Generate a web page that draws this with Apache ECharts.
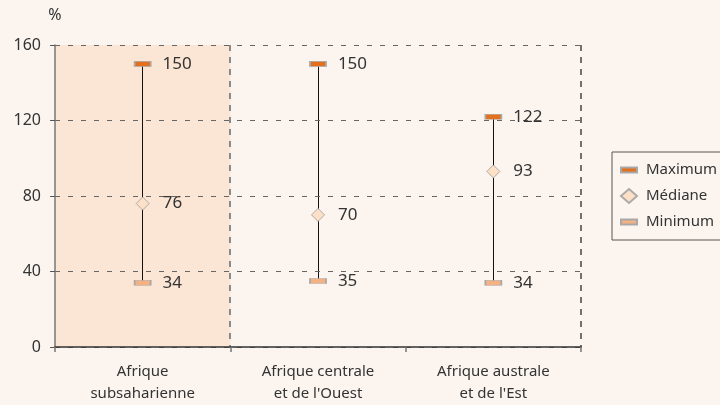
<!DOCTYPE html>
<html><head><meta charset="utf-8">
<script src="https://cdn.jsdelivr.net/npm/echarts@6/dist/echarts.min.js"></script>
<style>html,body{margin:0;padding:0;background:#fcf5ef;}#c{width:720px;height:405px;}</style>
</head><body><div id="c"></div>
<script>
var categories = ['Afrique\nsubsaharienne', "Afrique centrale\net de l'Ouest", "Afrique australe\net de l'Est"];
var maxValues = [150, 150, 122];
var medianValues = [76, 70, 93];
var minValues = [34, 35, 34];
var shaded = [true, false, false];
var yTicks = [0, 40, 80, 120, 160];

var FONT = 'Noto Sans';
var chart = echarts.init(document.getElementById('c'), null, {renderer: 'canvas'});
var rangeData = categories.map(function (c, i) { return [i, minValues[i], maxValues[i]]; });
var rectIcon = 'path://M0,0 M16,14 M0,4.5 L16,4.5 L16,9.5 L0,9.5 Z';
var GRID_DASH = [5, 8];

function crisp(p) {
  var d = Math.round(p * 2);
  return (d + 1) % 2 === 0 ? d / 2 : (d + 1) / 2;
}

var option = {
  backgroundColor: '#fcf5ef',
  animation: false,
  textStyle: {fontFamily: FONT},
  grid: {left: 55, right: 139, top: 45, bottom: 58},
  legend: {
    orient: 'vertical', left: 612, top: 152,
    borderColor: '#555', borderWidth: 1,
    padding: [10, 20, 10, 8],
    itemGap: 10, itemWidth: 16, itemHeight: 14,
    textStyle: {fontFamily: FONT, fontSize: 15, color: '#333', padding: [0, 0, 0, 4]},
    data: [
      {name: 'Maximum', icon: rectIcon},
      {name: 'Médiane', icon: 'diamond'},
      {name: 'Minimum', icon: rectIcon}
    ]
  },
  xAxis: {
    type: 'category', data: categories, boundaryGap: true, z: 4,
    axisLine: {lineStyle: {color: '#333', width: 1.5}},
    axisTick: {show: true, length: 5, lineStyle: {color: '#777', width: 1.5}},
    axisLabel: {margin: 14, fontSize: 15, color: '#333', lineHeight: 22, fontFamily: FONT},
    splitLine: {show: false}
  },
  yAxis: {
    type: 'value', min: 0, max: 160, interval: 40, z: 4,
    name: '%', nameLocation: 'end', nameGap: 22,
    nameTextStyle: {fontSize: 16, color: '#333', align: 'center', fontFamily: FONT},
    axisLine: {show: true, lineStyle: {color: '#777', width: 1.5}},
    axisTick: {show: true, length: 5, lineStyle: {color: '#555'}},
    axisLabel: {margin: 14, fontSize: 16, color: '#333', fontFamily: FONT,
      formatter: function (v) { return yTicks.indexOf(v) >= 0 ? String(v) : ''; }},
    splitLine: {show: true, lineStyle: {color: '#666', type: GRID_DASH, width: 1}}
  },
  series: [
    {
      type: 'custom', name: 'range', z: 3,
      data: rangeData,
      renderItem: function (params, api) {
        var i = api.value(0);
        var lo = api.coord([i, api.value(1)]);
        var hi = api.coord([i, api.value(2)]);
        var bw = api.size([1, 0])[0];
        var xc = Math.round(lo[0] - 0.5) + 0.5;
        var top = api.coord([i, 160])[1];
        var bot = api.coord([i, 0])[1];
        var children = [];
        if (shaded[i]) {
          var xl = lo[0] - bw / 2;
          children.push({
            type: 'rect',
            shape: {x: xl, y: top, width: bw, height: bot - top},
            style: {fill: '#fbe5d5'}
          });
          yTicks.forEach(function (t) {
            if (t <= 0) return;
            var y = crisp(api.coord([i, t])[1]);
            children.push({
              type: 'line',
              shape: {x1: xl, y1: y, x2: xl + bw, y2: y},
              style: {stroke: '#666', lineWidth: 1, lineDash: GRID_DASH}
            });
          });
        }
        children.push({
          type: 'line',
          shape: {x1: xc, y1: lo[1], x2: xc, y2: hi[1]},
          style: {stroke: '#111', lineWidth: 1}
        });
        if (i === 0 || i === categories.length - 1) {
          var xr = Math.round(lo[0] + bw / 2);
          children.push({
            type: 'line',
            shape: {x1: xr, y1: top, x2: xr, y2: bot},
            style: {stroke: i === 0 ? '#8a8a8a' : '#444', lineWidth: i === 0 ? 2 : 1.5, lineDash: [6, 6]}
          });
        }
        return {type: 'group', children: children};
      }
    },
    {
      type: 'scatter', name: 'Maximum', z: 5,
      data: maxValues, symbol: 'rect', symbolSize: [16, 5],
      itemStyle: {color: '#e2701c', borderColor: '#a8a8a8', borderWidth: 1, opacity: 1},
      label: {show: true, position: 'right', distance: 11, fontSize: 17, color: '#333', fontFamily: FONT}
    },
    {
      type: 'scatter', name: 'Médiane', z: 5,
      data: medianValues, symbol: 'diamond', symbolSize: 13,
      itemStyle: {color: '#fde0c6', borderColor: '#aaa', borderWidth: 1, opacity: 1},
      label: {show: true, position: 'right', distance: 13, fontSize: 17, color: '#333', fontFamily: FONT}
    },
    {
      type: 'scatter', name: 'Minimum', z: 5,
      data: minValues, symbol: 'rect', symbolSize: [16, 5],
      itemStyle: {color: '#f4b183', borderColor: '#a8a8a8', borderWidth: 1, opacity: 1},
      label: {show: true, position: 'right', distance: 11, fontSize: 17, color: '#333', fontFamily: FONT}
    }
  ]
};
chart.setOption(option);
</script></body></html>
